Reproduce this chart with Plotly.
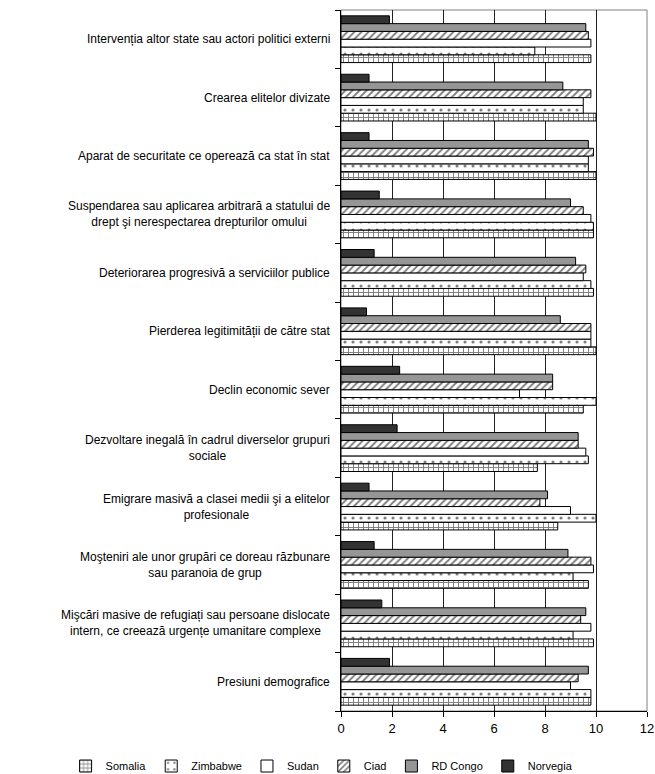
import plotly.graph_objects as go

# Indicator names, top to bottom
categories = [
    "Intervenția altor state sau actori politici externi",
    "Crearea elitelor divizate",
    "Aparat de securitate ce operează ca stat în stat",
    "Suspendarea sau aplicarea arbitrară a statului de<br>drept şi nerespectarea drepturilor omului",
    "Deteriorarea progresivă a serviciilor publice",
    "Pierderea legitimității de către stat",
    "Declin economic sever",
    "Dezvoltare inegală în cadrul diverselor grupuri<br>sociale",
    "Emigrare masivă a clasei medii şi a elitelor<br>profesionale",
    "Moşteniri ale unor grupări ce doreau răzbunare<br>sau paranoia de grup",
    "Mişcări masive de refugiați sau persoane dislocate<br>intern, ce creează urgențe umanitare complexe",
    "Presiuni demografice",
]

somalia = [9.8, 10.0, 10.0, 9.9, 9.9, 10.0, 9.5, 7.7, 8.5, 9.7, 9.9, 9.8]
zimbabwe = [7.6, 9.5, 9.7, 9.9, 9.8, 9.8, 10.0, 9.7, 10.0, 9.1, 9.1, 9.8]
sudan = [9.8, 9.5, 9.7, 9.8, 9.5, 9.8, 7.0, 9.6, 9.0, 9.9, 9.8, 9.0]
ciad = [9.7, 9.8, 9.9, 9.5, 9.6, 9.8, 8.3, 9.3, 7.8, 9.8, 9.4, 9.3]
rd_congo = [9.6, 8.7, 9.7, 9.0, 9.2, 8.6, 8.3, 9.3, 8.1, 8.9, 9.6, 9.7]
norvegia = [1.9, 1.1, 1.1, 1.5, 1.3, 1.0, 2.3, 2.2, 1.1, 1.3, 1.6, 1.9]

x_ticks = [0, 2, 4, 6, 8, 10, 12]

FONT = "Liberation Sans, Arial, sans-serif"
line = dict(color="black", width=1)

series = [
    ("Somalia", somalia, dict(color="white", pattern=dict(shape="+", fgcolor="black", bgcolor="white", size=5, solidity=0.35))),
    ("Zimbabwe", zimbabwe, dict(color="white", pattern=dict(shape=".", fgcolor="black", bgcolor="white", size=8, solidity=0.12))),
    ("Sudan", sudan, dict(color="white")),
    ("Ciad", ciad, dict(color="white", pattern=dict(shape="/", fgcolor="black", bgcolor="white", size=5, solidity=0.4))),
    ("RD Congo", rd_congo, dict(color="#969696")),
    ("Norvegia", norvegia, dict(color="#333333")),
]

fig = go.Figure()
for name, vals, marker in series:
    marker = dict(marker, line=line)
    fig.add_trace(go.Bar(
        name=name, x=vals, y=categories, orientation="h", marker=marker,
    ))

# Category labels, centred line by line, to the left of the axis
for cat in categories:
    fig.add_annotation(
        x=0, xref="paper", y=cat, yref="y", xanchor="right", xshift=-9,
        text=cat, showarrow=False, align="center",
        font=dict(family=FONT, size=12, color="black"),
    )

fig.update_layout(
    width=655, height=774,
    margin=dict(l=341, r=8, t=10, b=63, autoexpand=False),
    paper_bgcolor="white", plot_bgcolor="white",
    barmode="group", bargap=0.2, bargroupgap=0,
    font=dict(family=FONT, size=12, color="black"),
    showlegend=True,
    legend=dict(
        orientation="h", x=-0.9, xanchor="left",
        y=-0.0785, yanchor="middle",
        font=dict(family=FONT, size=11, color="black"),
        itemwidth=30, traceorder="normal", tracegroupgap=0,
    ),
)

fig.update_xaxes(
    range=[0, 12], tickvals=x_ticks, ticks="outside", ticklen=5, tickcolor="black",
    showline=True, linecolor="black", linewidth=1, mirror=False,
    showgrid=True, gridcolor="#222222", gridwidth=1, zeroline=False,
    tickfont=dict(family=FONT, size=13, color="black"),
)
fig.update_yaxes(
    categoryorder="array", categoryarray=categories[::-1],
    showticklabels=False, ticks="outside", ticklen=5, tickcolor="black",
    tickson="boundaries", showline=True, linecolor="black", linewidth=1,
    showgrid=False,
)

# Light frame around the plotting area (top and right)
fig.add_shape(type="rect", xref="paper", yref="paper", x0=0, x1=1, y0=0, y1=1,
              line=dict(color="#808080", width=1), layer="below")

fig.write_html("out.html")
